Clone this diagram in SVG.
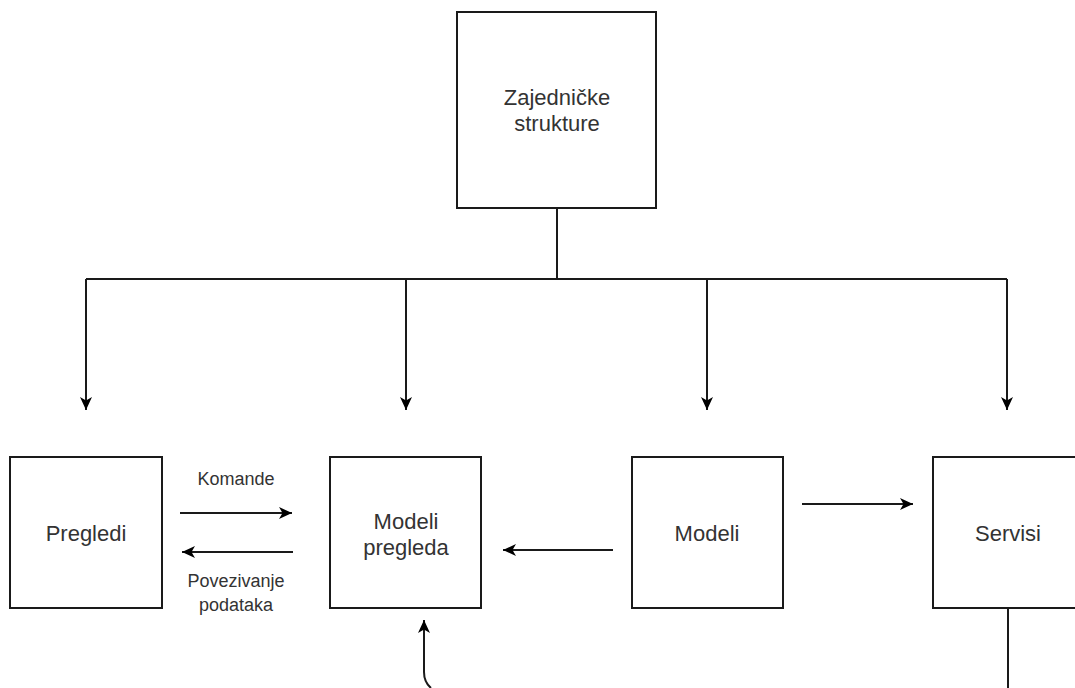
<svg xmlns="http://www.w3.org/2000/svg" width="1075" height="688" viewBox="0 0 1075 688">
<defs>
<style>
.box{fill:#ffffff;stroke:#1a1a1a;stroke-width:2}
.lbl{font-family:"Liberation Sans",Arial,Helvetica,sans-serif;font-size:22px;fill:#333333;text-anchor:middle}
.sm{font-family:"Liberation Sans",Arial,Helvetica,sans-serif;font-size:18px;fill:#333333;text-anchor:middle}
.ln{fill:none;stroke:#1a1a1a;stroke-width:2}
</style>
<marker id="arr" markerUnits="userSpaceOnUse" markerWidth="16" markerHeight="14" refX="13" refY="7" orient="auto">
<path d="M13,7 L0,1 L3.5,7 L0,13 Z" fill="#000"/>
</marker>
</defs>
<rect width="1075" height="688" fill="#ffffff"/>
<g id="connectors">
<path class="ln" d="M557,208 L557,279"/>
<path class="ln" d="M86,279 L1007,279"/>
<path class="ln" d="M86,279 L86,410" marker-end="url(#arr)"/>
<path class="ln" d="M406,279 L406,410" marker-end="url(#arr)"/>
<path class="ln" d="M707,279 L707,410" marker-end="url(#arr)"/>
<path class="ln" d="M1007,279 L1007,410" marker-end="url(#arr)"/>
<path class="ln" d="M180,513 L292,513" marker-end="url(#arr)"/>
<path class="ln" d="M293,552 L182,552" marker-end="url(#arr)"/>
<path class="ln" d="M613,550 L503,550" marker-end="url(#arr)"/>
<path class="ln" d="M802,504 L913,504" marker-end="url(#arr)"/>
<path class="ln" d="M431,688 Q424,682 424,672 L424,620" marker-end="url(#arr)"/>
<path class="ln" d="M1008,608 L1008,688"/>
<text class="sm" x="236" y="485">Komande</text>
<text class="sm" x="236" y="587">Povezivanje</text>
<text class="sm" x="236" y="611">podataka</text>
</g>
<g id="zajednicke">
<rect class="box" x="457" y="12" width="199" height="196"/>
<text class="lbl" x="557" y="105">Zajedničke</text>
<text class="lbl" x="557" y="131">strukture</text>
</g>
<g id="pregledi">
<rect class="box" x="10" y="457" width="152" height="151"/>
<text class="lbl" x="86" y="541">Pregledi</text>
</g>
<g id="modeli-pregleda">
<rect class="box" x="330" y="457" width="151" height="151"/>
<text class="lbl" x="406" y="529">Modeli</text>
<text class="lbl" x="406" y="555">pregleda</text>
</g>
<g id="modeli">
<rect class="box" x="632" y="457" width="151" height="151"/>
<text class="lbl" x="707" y="541">Modeli</text>
</g>
<g id="servisi">
<rect class="box" x="933" y="457" width="151" height="151"/>
<text class="lbl" x="1008" y="541">Servisi</text>
</g>
</svg>
